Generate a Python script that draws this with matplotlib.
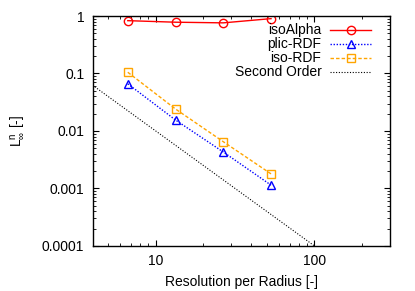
import matplotlib
matplotlib.use("Agg")
import matplotlib.pyplot as plt
from matplotlib.ticker import LogLocator, NullFormatter, FixedLocator, FixedFormatter

plt.rcParams['font.family'] = ['Liberation Sans', 'DejaVu Sans']
plt.rcParams['mathtext.fontset'] = 'custom'
plt.rcParams['mathtext.rm'] = 'Liberation Sans'
plt.rcParams['mathtext.it'] = 'Liberation Sans'

# Resolution per radius (cells per radius)
resolution = [6.67, 13.33, 26.67, 53.33]

# L_inf errors
iso_alpha = [0.83, 0.78, 0.76, 0.90]
plic_rdf = [0.066, 0.0155, 0.0043, 0.00114]
iso_rdf = [0.105, 0.0241, 0.0065, 0.00179]

# second order reference line endpoints
second_x = [4, 300]
second_y = [0.0625, 1.0 / 90000]

y_ticks = [1, 0.1, 0.01, 0.001, 0.0001]
y_labels = ["1", "0.1", "0.01", "0.001", "0.0001"]
x_ticks = [10, 100]
x_labels = ["10", "100"]

fig = plt.figure(figsize=(4.15, 2.91), dpi=100)
ax = fig.add_axes([0.223, 0.155, 0.717, 0.79])

ax.plot(resolution, iso_alpha, color="#ff0000", lw=1.0, marker="o", ms=6,
        mfc="none", mew=1.0, label="isoAlpha")
ax.plot(resolution, plic_rdf, color="#0000ff", lw=1.0, ls=(0, (1, 1.2)), marker="^", ms=6,
        mfc="none", mew=1.0, label="plic-RDF")
ax.plot(resolution, iso_rdf, color="#ffa500", lw=1.0, ls=(0, (2.5, 1.5)), marker="s", ms=6,
        mfc="none", mew=1.0, label="iso-RDF")
ax.plot(second_x, second_y, color="black", lw=0.8, ls=(0, (1, 1.5)), label="Second Order")

ax.set_xscale("log")
ax.set_yscale("log")
ax.set_xlim(4, 300)
ax.set_ylim(0.0001, 1)

ax.yaxis.set_major_locator(FixedLocator(y_ticks))
ax.yaxis.set_major_formatter(FixedFormatter(y_labels))
ax.xaxis.set_major_locator(FixedLocator(x_ticks))
ax.xaxis.set_major_formatter(FixedFormatter(x_labels))
ax.xaxis.set_minor_locator(LogLocator(base=10, subs=range(2, 10)))
ax.yaxis.set_minor_locator(LogLocator(base=10, subs=range(2, 10)))
ax.xaxis.set_minor_formatter(NullFormatter())
ax.yaxis.set_minor_formatter(NullFormatter())

ax.tick_params(which="both", direction="in", top=True, right=True, labelsize=10)
ax.tick_params(which="major", length=4, width=0.8, pad=6)
ax.tick_params(which="minor", length=2, width=0.6)
for s in ax.spines.values():
    s.set_linewidth(1.0)

ax.set_xlabel("Resolution per Radius [-]", fontsize=10, labelpad=5)
ax.set_ylabel(r"L$^{\mathrm{n}}_{\infty}$ [-]", fontsize=10, labelpad=11)

ax.legend(loc="upper right", frameon=False, markerfirst=False, fontsize=10,
          handlelength=3.0, handletextpad=0.6, labelspacing=0.0,
          borderaxespad=0.3, bbox_to_anchor=(0.97, 1.01))

fig.savefig("out.png", dpi=100)
